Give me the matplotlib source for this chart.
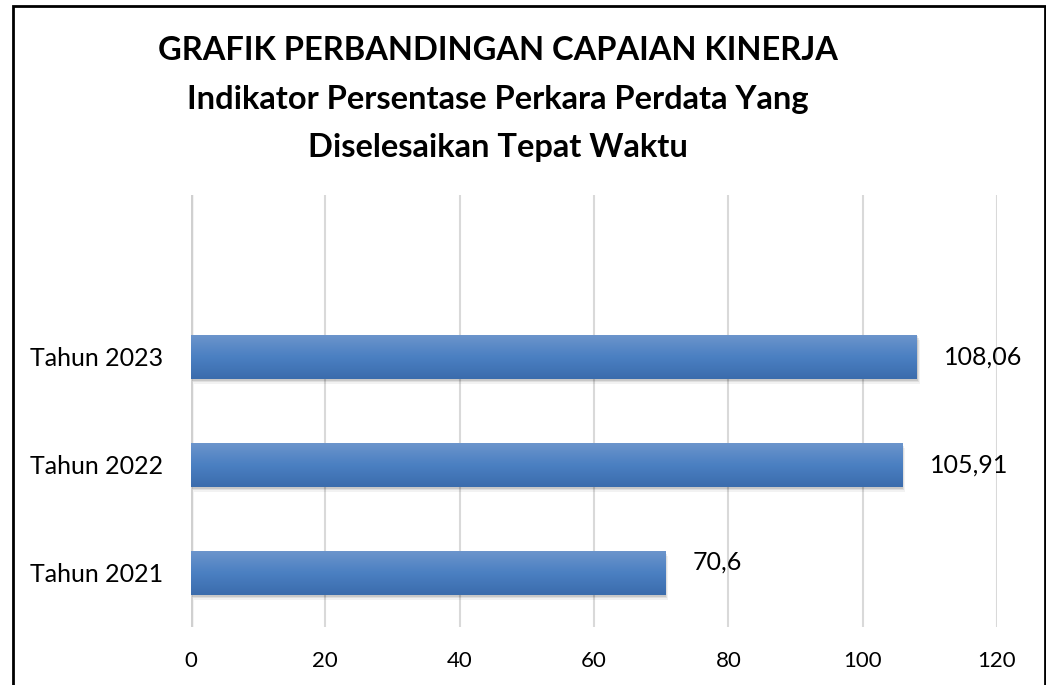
import matplotlib
matplotlib.use("Agg")
import matplotlib.pyplot as plt
import numpy as np
from matplotlib.patches import Rectangle
import matplotlib.colors as mcolors

categories = ["Tahun 2021", "Tahun 2022", "Tahun 2023"]
values = [70.6, 105.91, 108.06]
value_labels = ["70,6", "105,91", "108,06"]
x_ticks = [0, 20, 40, 60, 80, 100, 120]
title_lines = ["GRAFIK PERBANDINGAN CAPAIAN KINERJA",
               "Indikator Persentase Perkara Perdata Yang",
               "Diselesaikan Tepat Waktu"]

FONT = ["Lato", "DejaVu Sans"]
plt.rcParams['font.family'] = FONT

fig = plt.figure(figsize=(10.46, 6.85), dpi=100)
W, H = 1046, 685
ax = fig.add_axes([191 / W, 1 - 627 / H, (997 - 191) / W, (627 - 195) / H])

y = np.arange(len(categories))
bar_h = 0.41
bars = ax.barh(y, values, height=bar_h, color="#4a7ebf", zorder=3)

cmap = mcolors.LinearSegmentedColormap.from_list("g", ["#3b6cac", "#4b80c2", "#6d96cc"])
for b in bars:
    x0, y0 = b.get_x(), b.get_y()
    w, h = b.get_width(), b.get_height()
    # soft shadow
    for dx, dy, a in [(0.15, -0.015, 0.10), (0.3, -0.03, 0.08), (0.45, -0.045, 0.05)]:
        sh = Rectangle((x0 + dx, y0 + dy), w, h, facecolor="#000000", alpha=a,
                       edgecolor="none", zorder=2)
        ax.add_patch(sh)
    grad = np.linspace(0, 1, 100).reshape(-1, 1)
    im = ax.imshow(grad, extent=[x0, x0 + w, y0, y0 + h], origin="lower",
                   cmap=cmap, aspect="auto", zorder=4)
    im.set_clip_path(b)

for yi, v, lab in zip(y, values, value_labels):
    ax.text(v + 4.1, yi + (0.1 if v < 100 else 0.0), lab, va="center", ha="left",
            fontsize=18, color="black", zorder=1)

ax.set_xlim(0, 120)
ax.set_ylim(-0.5, 3.5)
ax.set_xticks(x_ticks)
ax.set_xticklabels([str(t) for t in x_ticks], fontsize=16)
ax.set_yticks(y)
ax.set_yticklabels(categories, fontsize=18)
ax.tick_params(axis="both", length=0)
ax.tick_params(axis="x", pad=17)
ax.tick_params(axis="y", pad=20)
ax.grid(axis="x", color="#d9d9d9", linewidth=1.5, zorder=0)
ax.set_axisbelow(True)
for s in ax.spines.values():
    s.set_visible(False)
ax.axvline(0, color="#d0d0d0", linewidth=2.5, zorder=1)

ys = [50, 100, 147]
for line, yy in zip(title_lines, ys):
    fig.text(498 / W, 1 - yy / H, line, ha="center", va="center",
             fontsize=23.5, fontweight="bold")

border = Rectangle((12.5 / W, -0.01), (1045 - 12.5) / W, 1 - 5.5 / H + 0.01,
                   transform=fig.transFigure, fill=False, edgecolor="black",
                   linewidth=2, clip_on=False)
fig.patches.append(border)

fig.savefig("out.png", dpi=100, facecolor="white")
